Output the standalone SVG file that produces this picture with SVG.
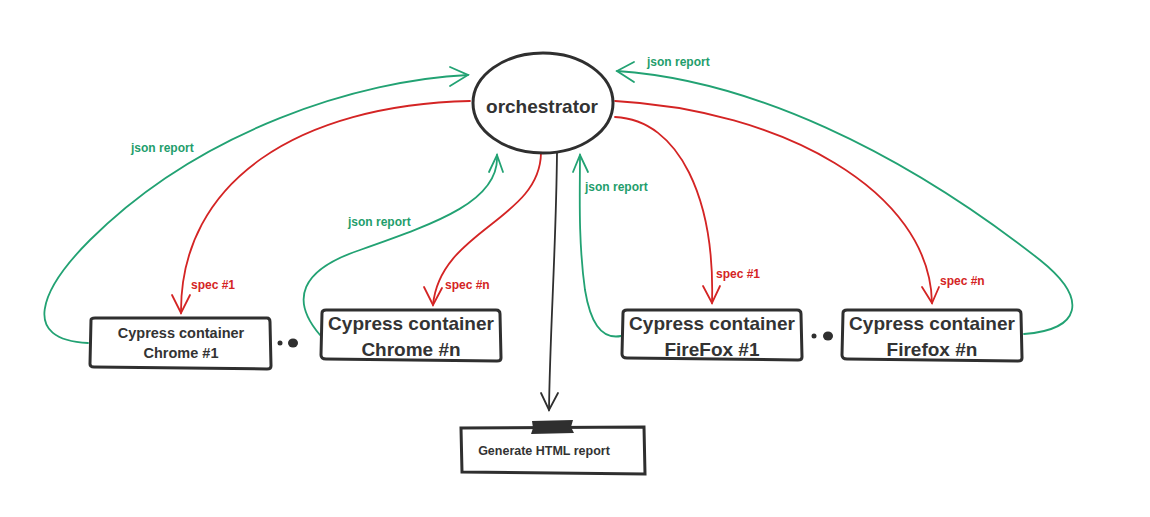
<svg xmlns="http://www.w3.org/2000/svg" width="1150" height="517" viewBox="0 0 1150 517">
<style>
.box{fill:#fff;stroke:#2f2f2f;stroke-width:3;}
.t{font-family:"Liberation Sans",Arial,sans-serif;font-weight:bold;fill:#333;text-anchor:middle;}
.g{fill:none;stroke:#22a273;stroke-width:1.8;stroke-linecap:round;}
.r{fill:none;stroke:#d42424;stroke-width:1.8;stroke-linecap:round;}
.k{fill:none;stroke:#2f2f2f;stroke-width:1.8;stroke-linecap:round;}
.gl{font-family:"Liberation Sans",Arial,sans-serif;font-weight:bold;font-size:12px;fill:#1f9e6c;}
.rl{font-family:"Liberation Sans",Arial,sans-serif;font-weight:bold;font-size:12px;fill:#d42424;}
</style>
<rect width="1150" height="517" fill="#fff"/>
<g id="connectors">
<path class="g" d="M88,343 C20,340 40,290 90,240 C200,130 360,80 468,75"/>
<path class="g" d="M450,67 L468,75 L450,86"/>
<text class="gl" x="131" y="152">json report</text>
<path class="r" d="M470,101 C300,105 180,180 181,313"/>
<path class="r" d="M172,295 L181,313 L190,295"/>
<text class="rl" x="191" y="289">spec #1</text>
<path class="g" d="M320,335 C290,300 300,270 360,250 C440,222 500,200 497,155"/>
<path class="g" d="M489,172 L497,155 L503,172"/>
<text class="gl" x="348" y="226">json report</text>
<path class="r" d="M541,153 C540,220 440,230 433,305"/>
<path class="r" d="M424,287 L433,305 L442,288"/>
<text class="rl" x="445" y="289">spec #n</text>
<path class="k" d="M557,153 C556,250 550,330 549,410"/>
<path class="k" d="M541,393 L549,410 L558,393"/>
<path class="g" d="M621,336 C600,340 590,320 585,290 C578,240 580,190 580,155"/>
<path class="g" d="M573,172 L580,155 L588,172"/>
<text class="gl" x="585" y="191">json report</text>
<path class="r" d="M615,117 C680,120 715,200 712,303"/>
<path class="r" d="M703,286 L712,303 L720,286"/>
<text class="rl" x="716" y="278">spec #1</text>
<path class="r" d="M615,101 C780,110 930,190 932,303"/>
<path class="r" d="M922,287 L932,303 L939,287"/>
<text class="rl" x="940" y="285">spec #n</text>
<path class="g" d="M1024,334 C1080,330 1090,300 1040,260 C900,150 750,80 617,71"/>
<path class="g" d="M634,62 L617,71 L634,82"/>
<text class="gl" x="647" y="66">json report</text>
</g>
<g id="orchestrator">
<ellipse cx="543" cy="103" rx="70" ry="50" fill="#fff" stroke="#2f2f2f" stroke-width="3"/>
<text class="t" x="542" y="113" font-size="19">orchestrator</text>
</g>
<g id="chrome1">
<path class="box" d="M91,320 Q91,318 95,318 L267,318 Q270,318 270,322 L271,366 Q271,369 267,369 L94,367 Q90,367 90,364 Z"/>
<text class="t" x="181" y="338" font-size="14.5">Cypress container</text>
<text class="t" x="181" y="358" font-size="14.5">Chrome #1</text>
</g>
<g id="dots1">
<circle cx="280" cy="343" r="2.5" fill="#2f2f2f"/>
<ellipse cx="293" cy="343" rx="5" ry="4.5" fill="#2f2f2f"/>
</g>
<g id="chromen">
<path class="box" d="M322,313 Q322,310 326,310 L496,310 Q500,310 500,314 L501,358 Q501,361 497,361 L326,359 Q321,359 321,355 Z"/>
<text class="t" x="411" y="330" font-size="19">Cypress container</text>
<text class="t" x="411" y="356" font-size="19">Chrome #n</text>
</g>
<g id="firefox1">
<path class="box" d="M623,313 Q623,310 627,310 L797,310 Q801,310 801,314 L802,357 Q802,360 798,360 L627,358 Q622,358 622,354 Z"/>
<text class="t" x="712" y="330" font-size="19">Cypress container</text>
<text class="t" x="712" y="356" font-size="19">FireFox #1</text>
</g>
<g id="dots2">
<circle cx="814" cy="336" r="2.5" fill="#2f2f2f"/>
<ellipse cx="828" cy="336" rx="5" ry="4.5" fill="#2f2f2f"/>
</g>
<g id="firefoxn">
<path class="box" d="M843,313 Q843,310 847,310 L1017,310 Q1021,310 1021,314 L1022,358 Q1022,361 1018,361 L847,359 Q842,359 842,355 Z"/>
<text class="t" x="932" y="330" font-size="19">Cypress container</text>
<text class="t" x="932" y="356" font-size="19">Firefox #n</text>
</g>
<g id="report">
<path class="box" d="M461,428 L644,427 L645,474 L462,472 Z"/>
<path d="M532,421 L573,420 L571,427 L574,433 L531,434 L533,428 Z" fill="#2f2f2f"/>
<text class="t" x="544" y="455" font-size="12.5">Generate HTML report</text>
</g>
</svg>
